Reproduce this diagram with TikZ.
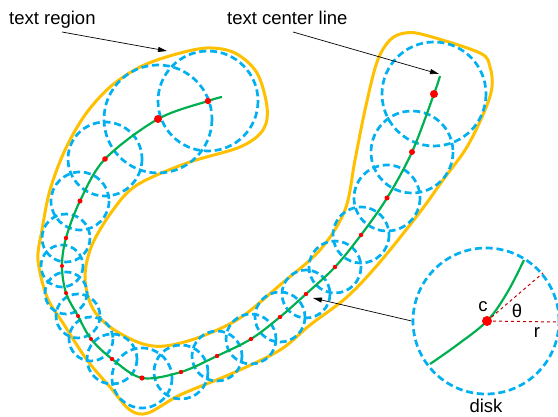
\documentclass[tikz,border=0pt]{standalone}
\usepackage{fontspec}
\setmainfont{Liberation Sans}
\usetikzlibrary{positioning,arrows.meta}

\definecolor{rimorange}{RGB}{255,192,0}
\definecolor{ringblue}{RGB}{0,176,240}
\definecolor{linegreen}{RGB}{0,176,80}
\definecolor{darkred}{RGB}{192,0,0}

\tikzset{
  rim/.style={rimorange, line width=3pt},
  ring/.style={ringblue, line width=2.7pt, dash pattern=on 7pt off 3.8pt},
  midline/.style={linegreen, line width=2.2pt},
  pointer/.style={black, line width=0.7pt, -{Triangle[length=9pt,width=5pt]}},
  lbl/.style={font=\fontsize{18.5}{20}\selectfont, inner sep=0pt},
}

\begin{document}
\begin{tikzpicture}[x=1pt, y=-1pt]
\useasboundingbox (0, 0) rectangle (558, 417);

% text region outline
\draw[rim] plot[smooth cycle, tension=0.55] coordinates {
  (42,230) (50,190) (65,150) (85,115) (110,87) (140,67) (173,55) (207,48)
  (235,53) (257,73) (267,107) (263,130) (240,147) (187,163) (137,185)
  (113,210) (92,245) (85,277) (92,307) (110,327) (140,343) (165,346)
  (200,337) (240,318) (280,285) (320,250) (345,210) (355,160) (365,110)
  (377,62) (390,40) (405,33) (425,35) (480,53) (490,67) (492,87) (485,110)
  (467,147) (443,180) (420,212) (380,262) (347,297) (310,325) (280,350)
  (233,373) (180,395) (148,413) (130,410) (110,387) (87,360) (63,323)
  (47,297) (38,260)};

% disks along the center line
\foreach \cx/\cy/\rr in {208/101/50, 158/119/54, 105/159/37, 80/201/29,
    66/238/24, 62/266/21, 66/293/21, 78/316/22, 91/339/22, 112/359/25,
    142/378/30, 181/372/27, 217/356/25, 251/339/25, 280/317/25,
    306/294/24, 335/267/26, 361/235/28, 387/198/33, 412/152/41, 434/94/52}
  \draw[ring] (\cx, \cy) circle (\rr);

% text center line
\draw[midline] plot[smooth, tension=0.55] coordinates {
  (440,76) (434,94) (412,152) (387,198) (361,235) (335,267) (306,294)
  (280,317) (251,339) (217,356) (181,372) (142,378) (112,359) (91,339)
  (78,316) (66,293) (62,266) (66,238) (80,201) (105,159) (158,119)
  (208,101) (222,97)};

\foreach \cx/\cy/\rr in {434/94/4, 158/119/4, 208/101/3.2, 412/152/3,
    105/159/2.8, 80/201/2.5, 387/198/2.5, 361/235/2.2, 335/267/2.2,
    306/294/2.2, 280/317/2.2, 251/339/2.2, 217/356/2.2, 181/372/2.2,
    142/378/2.6, 112/359/2.2, 91/339/2, 78/316/2, 66/293/2, 62/266/2,
    66/238/2.2}
  \fill[red] (\cx, \cy) circle (\rr);

% labels and pointers
\node[lbl, anchor=base west] (region) at (9, 25) {text region};
\node[lbl, anchor=base west] (center) at (227, 25) {text center line};
\coordinate (regtail) at (62, 32);
\coordinate (regtip) at (167, 51);
\coordinate (linetail) at (293, 32);
\coordinate (linetip) at (439, 74);
\draw[pointer] (regtail) -- (regtip);
\draw[pointer] (linetail) -- (linetip);

% single disk
\node[draw=ringblue, circle, ring, minimum size=146pt, inner sep=0pt] (disk) at (486, 321) {};
\coordinate (ctr) at (487, 321);
\coordinate (rimr) at (557, 322);
\coordinate (rimt) at (543, 273);
\draw[midline] plot[smooth, tension=0.6] coordinates {
  (430,364) (457,345) (487,321) (507,293) (524,260)};
\draw[darkred, line width=1pt, dashed] (ctr) -- (rimr);
\draw[darkred, line width=1pt, dashed] (ctr) -- (rimt);
\fill[red] (ctr) circle (5);
\node[lbl] (c) at (483, 307) {c};
\node[lbl] (theta) at (517, 311) {θ};
\node[lbl] (r) at (537, 333) {r};
\node[lbl, anchor=base] (disklbl) at (486, 413) {disk};
\coordinate (ctip) at (313, 298);
\draw[pointer] (disk.west) -- (ctip);
\end{tikzpicture}
\end{document}
